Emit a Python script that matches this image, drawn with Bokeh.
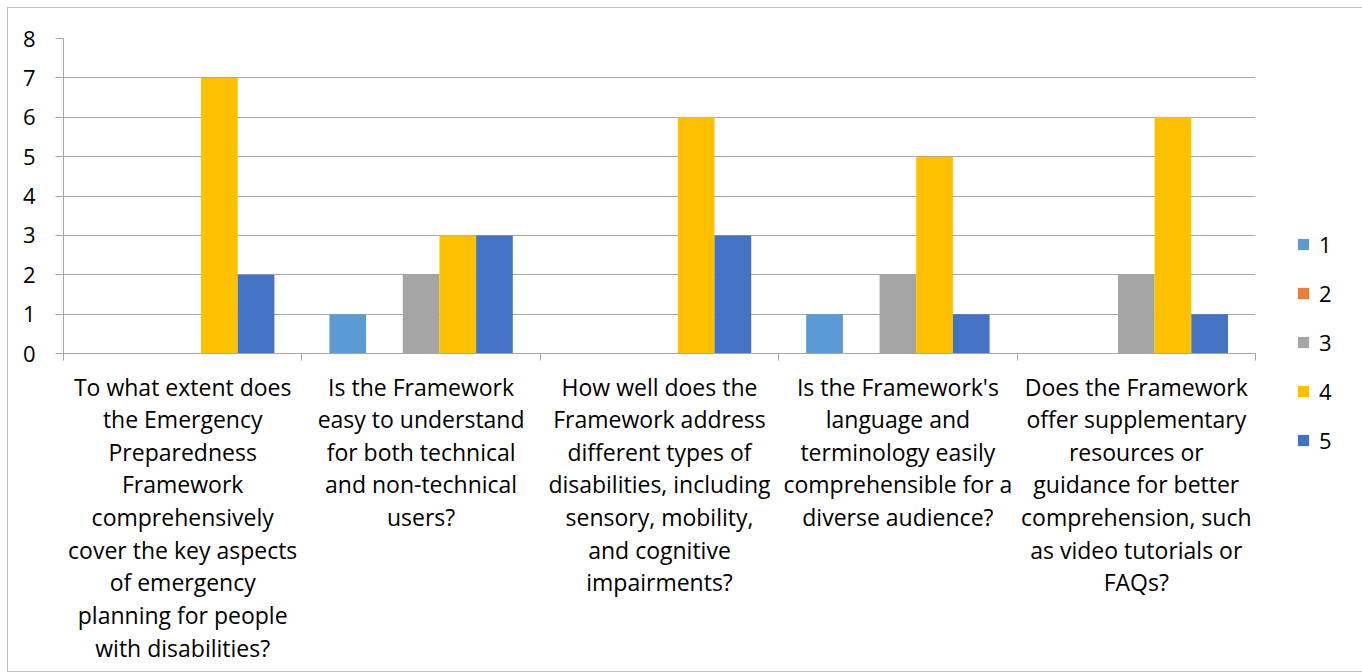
from bokeh.plotting import figure
from bokeh.models import Range1d, FixedTicker, Legend, LegendItem
from bokeh.embed import file_html
from bokeh.resources import INLINE

categories = [
    "To what extent does\nthe Emergency\nPreparedness\nFramework\ncomprehensively\ncover the key aspects\nof emergency\nplanning for people\nwith disabilities?",
    "Is the Framework\neasy to understand\nfor both technical\nand non-technical\nusers?",
    "How well does the\nFramework address\ndifferent types of\ndisabilities, including\nsensory, mobility,\nand cognitive\nimpairments?",
    "Is the Framework's\nlanguage and\nterminology easily\ncomprehensible for a\ndiverse audience?",
    "Does the Framework\noffer supplementary\nresources or\nguidance for better\ncomprehension, such\nas video tutorials or\nFAQs?",
]
series_names = ["1", "2", "3", "4", "5"]
s1 = [0, 1, 0, 1, 0]
s2 = [0, 0, 0, 0, 0]
s3 = [0, 2, 0, 2, 2]
s4 = [7, 3, 6, 5, 6]
s5 = [2, 3, 3, 1, 1]
series_values = [s1, s2, s3, s4, s5]
colors = ["#5B9BD5", "#ED7D31", "#A5A5A5", "#FFC000", "#4472C4"]
y_ticks = [0, 1, 2, 3, 4, 5, 6, 7, 8]

FONT = "Open Sans"
FS = "22px"
GRID = "#A6A6A6"

p = figure(
    frame_width=1192, frame_height=315,
    min_border_left=55, min_border_top=30, min_border_right=101, min_border_bottom=318,
    x_range=Range1d(0, len(categories)), y_range=Range1d(0, 8),
    output_backend="svg", toolbar_location=None,
)
p.styles = {"border": "1px solid #BFBFBF", "margin-left": "7px", "margin-top": "7px"}
p.outline_line_color = None
p.background_fill_color = "white"
p.border_fill_color = "white"

n = len(series_names)
bar_w = 1.0 / 6.5
items = []
centers = [i + 0.5 for i in range(len(categories))]
for k in range(n):
    xs = [c + (k - (n - 1) / 2) * bar_w for c in centers]
    r = p.vbar(x=xs, top=series_values[k], bottom=0, width=bar_w,
               fill_color=colors[k], line_color=None)
    items.append(LegendItem(label=series_names[k], renderers=[r]))

# x axis
p.xaxis.ticker = FixedTicker(ticks=centers, minor_ticks=list(range(len(categories) + 1)))
p.xaxis.major_label_overrides = {c: lab for c, lab in zip(centers, categories)}
p.xaxis.major_tick_line_color = None
p.xaxis.major_tick_out = 0
p.xaxis.major_tick_in = 0
p.xaxis.minor_tick_line_color = GRID
p.xaxis.minor_tick_out = 7
p.xaxis.minor_tick_in = 0
p.xaxis.axis_line_color = GRID
p.xaxis.major_label_text_font = FONT
p.xaxis.major_label_text_font_size = "23px"
p.xaxis.major_label_text_color = "#000000"
p.xaxis.major_label_text_line_height = 1.02
p.xaxis.major_label_standoff = 10
p.xaxis.major_label_orientation = "horizontal"
p.xgrid.grid_line_color = None

# y axis
p.yaxis.ticker = FixedTicker(ticks=y_ticks)
p.yaxis.minor_tick_line_color = None
p.yaxis.major_tick_line_color = GRID
p.yaxis.major_tick_out = 8
p.yaxis.major_tick_in = 0
p.yaxis.axis_line_color = GRID
p.yaxis.major_label_text_font = FONT
p.yaxis.major_label_text_font_size = FS
p.yaxis.major_label_text_color = "#000000"
p.yaxis.major_label_standoff = 20
p.ygrid.grid_line_color = GRID
p.ygrid.grid_line_width = 1

legend = Legend(items=items, location=(41, -102), orientation="vertical")
legend.glyph_width = 14
legend.glyph_height = 14
legend.label_height = 20
legend.spacing = 19
legend.label_standoff = 9
legend.padding = 0
legend.margin = 0
legend.border_line_color = None
legend.background_fill_alpha = 0
legend.label_text_font = FONT
legend.label_text_font_size = FS
legend.label_text_color = "#000000"
p.add_layout(legend, "right")

open("out.html", "w").write(file_html(p, INLINE))
